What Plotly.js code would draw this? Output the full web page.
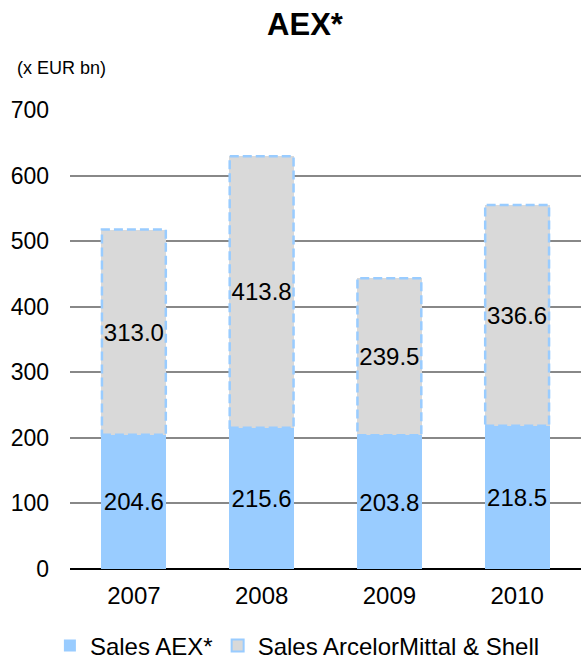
<!DOCTYPE html>
<html>
<head>
<meta charset="utf-8">
<script src="https://cdn.plot.ly/plotly-3.0.1.min.js"></script>
<style>
  body { margin: 0; background: #fff; }
  #chart { width: 581px; height: 659px; }
</style>
</head>
<body>
<div id="chart"></div>
<script>
var years = ['2007', '2008', '2009', '2010'];
var salesAex = [204.6, 215.6, 203.8, 218.5];
var salesArcelorShell = [313.0, 413.8, 239.5, 336.6];

var blue = '#99ccff';
var grey = '#d9d9d9';
var font = 'Liberation Sans, Arial, sans-serif';

function labels(vals) {
    return vals.map(function (v) { return v.toFixed(1); });
}

var trace1 = {
    x: years,
    y: salesAex,
    name: 'Sales AEX*',
    type: 'bar',
    marker: { color: blue, line: { width: 0 } },
    text: labels(salesAex),
    textposition: 'inside',
    insidetextanchor: 'middle',
    textangle: 0,
    constraintext: 'none',
    textfont: { size: 24, color: '#000', family: font },
    hoverinfo: 'none'
};

var trace2 = {
    x: years,
    y: salesArcelorShell,
    name: 'Sales ArcelorMittal & Shell',
    type: 'bar',
    showlegend: false,
    marker: { color: grey, line: { width: 0 } },
    text: labels(salesArcelorShell),
    textposition: 'inside',
    insidetextanchor: 'middle',
    textangle: 0,
    constraintext: 'none',
    textfont: { size: 24, color: '#000', family: font },
    hoverinfo: 'none'
};

// legend-only entry so the key shows the grey box with blue border
var legendEntry = {
    x: years,
    y: years.map(function () { return null; }),
    name: 'Sales ArcelorMittal & Shell',
    type: 'bar',
    marker: { color: grey, line: { color: blue, width: 2 } },
    hoverinfo: 'none'
};

// dashed outline around the top segment of every stack
var shapes = years.map(function (yr, i) {
    return {
        type: 'rect',
        xref: 'x', yref: 'y',
        x0: i - 0.25, x1: i + 0.25,
        y0: salesAex[i], y1: salesAex[i] + salesArcelorShell[i],
        line: { color: blue, width: 2.5, dash: '9px,4px' },
        fillcolor: 'rgba(0,0,0,0)',
        layer: 'above'
    };
});

var layout = {
    width: 581,
    height: 659,
    margin: { l: 70, r: 0, t: 110, b: 90, autoexpand: false },
    paper_bgcolor: '#fff',
    plot_bgcolor: '#fff',
    font: { family: font, size: 24, color: '#000' },
    title: {
        text: '<b>AEX*</b>',
        font: { size: 31, family: font, color: '#000' },
        x: 0.525, xref: 'container', xanchor: 'center',
        y: 0.963, yref: 'container', yanchor: 'middle'
    },
    barmode: 'stack',
    bargap: 0.49,
    showlegend: true,
    legend: {
        orientation: 'h',
        x: 0.445, xanchor: 'center',
        y: (569 - 646) / 459, yanchor: 'middle',
        font: { size: 24, family: font },
        traceorder: 'normal'
    },
    xaxis: {
        type: 'category',
        showgrid: false,
        showline: false,
        ticks: '',
        ticklabelstandoff: 10,
        tickfont: { size: 24 }
    },
    yaxis: {
        range: [0, 700],
        dtick: 100,
        showgrid: true,
        gridcolor: '#888888',
        gridwidth: 2,
        zeroline: true,
        zerolinecolor: '#000',
        zerolinewidth: 2,
        showline: false,
        ticks: '',
        ticklabelstandoff: 20,
        tickfont: { size: 23 }
    },
    shapes: shapes,
    annotations: [{
        text: '(x EUR bn)',
        xref: 'paper', yref: 'paper',
        x: (15 - 70) / 511, xanchor: 'left',
        y: (569 - 68) / 459, yanchor: 'middle',
        showarrow: false,
        font: { size: 18, family: font, color: '#000' }
    }]
};

Plotly.newPlot('chart', [trace1, trace2, legendEntry], layout, { displayModeBar: false, staticPlot: true });
</script>
</body>
</html>
